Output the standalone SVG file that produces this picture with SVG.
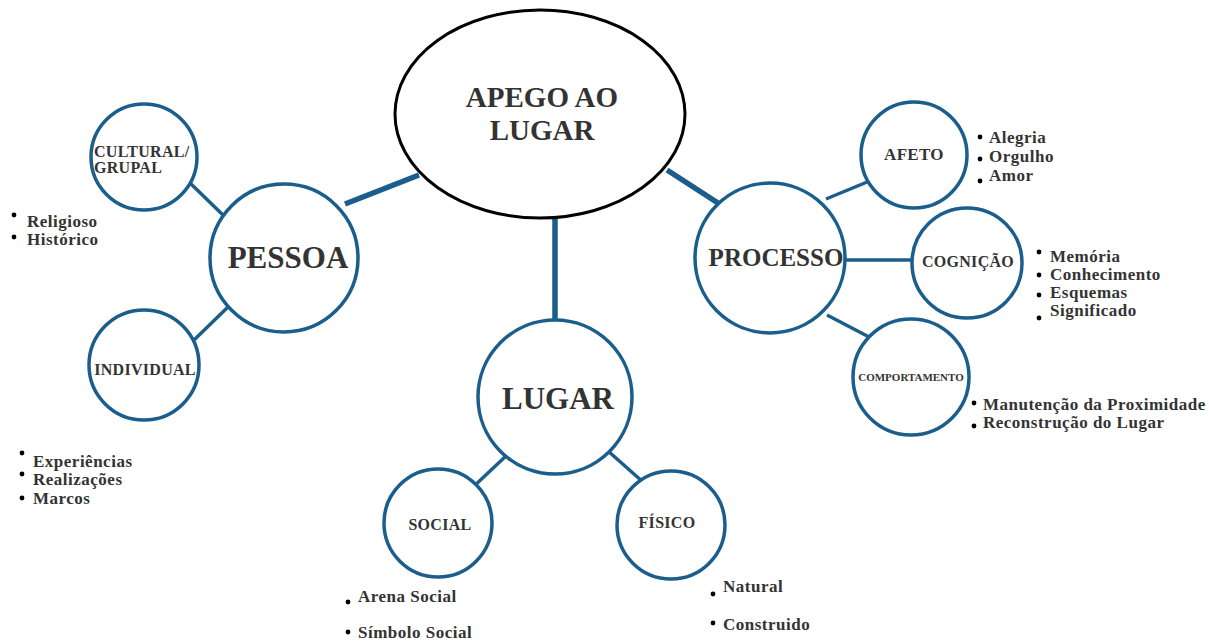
<svg xmlns="http://www.w3.org/2000/svg" width="1209" height="641" viewBox="0 0 1209 641">
  <style>
    .hub { fill: #ffffff; stroke: #000000; stroke-width: 3; }
    .node { fill: #ffffff; stroke: #1b5e8c; stroke-width: 3.5; }
    .link { stroke: #1b5e8c; stroke-width: 3.5; stroke-linecap: butt; fill: none; }
    .thick { stroke-width: 5.5; }
    text { font-family: "Liberation Serif", "Times New Roman", serif; font-weight: bold; fill: #333333; }
    .big { font-size: 31px; text-anchor: middle; }
    .title { font-size: 29px; text-anchor: middle; }
    .mid { font-size: 25px; text-anchor: middle; }
    .small { font-size: 16px; text-anchor: middle; letter-spacing: 0.3px; }
    .item { font-size: 17px; letter-spacing: 0.5px; }
    .dot { fill: #000000; }
  </style>

  <!-- connectors -->
  <g id="connectors">
    <line class="link thick" x1="345" y1="204" x2="419" y2="175"/>
    <line class="link thick" x1="667" y1="170" x2="718" y2="203"/>
    <line class="link thick" x1="555" y1="219" x2="555" y2="320"/>
    <line class="link" x1="189" y1="182" x2="224" y2="216"/>
    <line class="link" x1="193" y1="341" x2="229" y2="306"/>
    <line class="link" x1="826" y1="199" x2="872" y2="180"/>
    <line class="link" x1="845" y1="260" x2="913" y2="260"/>
    <line class="link" x1="827" y1="315" x2="871" y2="338"/>
    <line class="link" x1="506" y1="456" x2="472" y2="488"/>
    <line class="link" x1="608" y1="451" x2="643" y2="482"/>
  </g>

  <!-- central concept -->
  <g id="apego">
    <ellipse class="hub" cx="540" cy="114" rx="145" ry="104"/>
    <text class="title" x="542" y="107">APEGO AO</text>
    <text class="title" x="542" y="140">LUGAR</text>
  </g>

  <!-- PESSOA branch -->
  <g id="pessoa">
    <circle class="node" cx="284" cy="258" r="74"/>
    <text class="big" x="288" y="268">PESSOA</text>
  </g>
  <g id="cultural">
    <circle class="node" cx="144" cy="157" r="53"/>
    <text class="small" x="94" y="157" style="text-anchor:start">CULTURAL/</text>
    <text class="small" x="94" y="173" style="text-anchor:start">GRUPAL</text>
  </g>
  <g id="cultural-items">
    <circle class="dot" cx="14" cy="215" r="2.4"/>
    <text class="item" x="27" y="227">Religioso</text>
    <circle class="dot" cx="14" cy="237" r="2.4"/>
    <text class="item" x="27" y="245">Histórico</text>
  </g>
  <g id="individual">
    <circle class="node" cx="144" cy="365" r="55"/>
    <text class="small" x="145" y="375">INDIVIDUAL</text>
  </g>
  <g id="individual-items">
    <circle class="dot" cx="22" cy="453" r="2.4"/>
    <text class="item" x="33" y="467">Experiências</text>
    <circle class="dot" cx="22" cy="474" r="2.4"/>
    <text class="item" x="33" y="485">Realizações</text>
    <circle class="dot" cx="22" cy="498" r="2.4"/>
    <text class="item" x="33" y="504">Marcos</text>
  </g>

  <!-- PROCESSO branch -->
  <g id="processo">
    <circle class="node" cx="770" cy="258" r="75"/>
    <text class="mid" x="776" y="266">PROCESSO</text>
  </g>
  <g id="afeto">
    <circle class="node" cx="914" cy="155" r="53"/>
    <text class="small" x="914" y="160" style="font-size:17px">AFETO</text>
  </g>
  <g id="afeto-items">
    <circle class="dot" cx="980" cy="137" r="2.4"/>
    <text class="item" x="989" y="143">Alegria</text>
    <circle class="dot" cx="980" cy="159" r="2.4"/>
    <text class="item" x="989" y="162">Orgulho</text>
    <circle class="dot" cx="980" cy="181" r="2.4"/>
    <text class="item" x="989" y="181">Amor</text>
  </g>
  <g id="cognicao">
    <circle class="node" cx="967" cy="263" r="55"/>
    <text class="small" x="968" y="267">COGNIÇÃO</text>
  </g>
  <g id="cognicao-items">
    <circle class="dot" cx="1039" cy="252" r="2.4"/>
    <text class="item" x="1050" y="262">Memória</text>
    <circle class="dot" cx="1039" cy="275" r="2.4"/>
    <text class="item" x="1050" y="280">Conhecimento</text>
    <circle class="dot" cx="1039" cy="295" r="2.4"/>
    <text class="item" x="1050" y="298">Esquemas</text>
    <circle class="dot" cx="1039" cy="318" r="2.4"/>
    <text class="item" x="1050" y="316">Significado</text>
  </g>
  <g id="comportamento">
    <circle class="node" cx="911" cy="377" r="58"/>
    <text class="small" x="911" y="381" style="font-size:11px;letter-spacing:0">COMPORTAMENTO</text>
  </g>
  <g id="comportamento-items">
    <circle class="dot" cx="974" cy="403" r="2.4"/>
    <text class="item" x="983" y="410">Manutenção da Proximidade</text>
    <circle class="dot" cx="974" cy="426" r="2.4"/>
    <text class="item" x="983" y="428">Reconstrução do Lugar</text>
  </g>

  <!-- LUGAR branch -->
  <g id="lugar">
    <circle class="node" cx="555" cy="397" r="77"/>
    <text class="big" x="558" y="409">LUGAR</text>
  </g>
  <g id="social">
    <circle class="node" cx="438" cy="523" r="54"/>
    <text class="small" x="440" y="530">SOCIAL</text>
  </g>
  <g id="social-items">
    <circle class="dot" cx="348" cy="602" r="2.4"/>
    <text class="item" x="358" y="602">Arena Social</text>
    <circle class="dot" cx="348" cy="632" r="2.4"/>
    <text class="item" x="358" y="638">Símbolo Social</text>
  </g>
  <g id="fisico">
    <circle class="node" cx="671" cy="525" r="54"/>
    <text class="small" x="667" y="528">FÍSICO</text>
  </g>
  <g id="fisico-items">
    <circle class="dot" cx="713" cy="594" r="2.4"/>
    <text class="item" x="723" y="592">Natural</text>
    <circle class="dot" cx="713" cy="623" r="2.4"/>
    <text class="item" x="723" y="630">Construido</text>
  </g>
</svg>
